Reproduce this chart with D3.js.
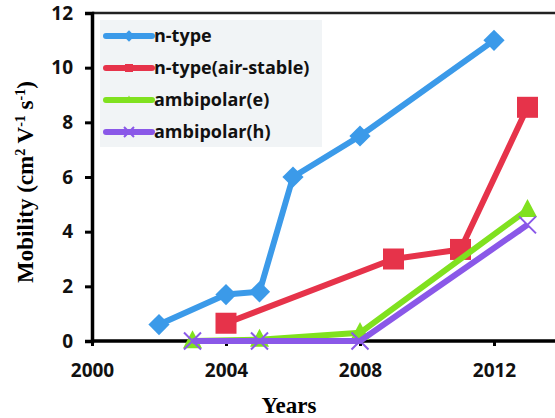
<!DOCTYPE html>
<html>
<head>
<meta charset="utf-8">
<script src="https://cdn.jsdelivr.net/npm/d3@7"></script>
<style>
  body { margin: 0; background: #fff; }
  svg { display: block; }
</style>
</head>
<body>
<svg id="chart" width="555" height="418"></svg>
<script>
// values
let nType = [[2002, 0.6], [2004, 1.7], [2005, 1.8], [2006, 6.0], [2008, 7.5], [2012, 11.0]]
let nTypeAir = [[2004, 0.65], [2009, 3.0], [2011, 3.35], [2013, 8.55]]
let ambiE = [[2003, 0.0], [2005, 0.05], [2008, 0.3], [2013, 4.8]]
let ambiH = [[2003, 0.0], [2005, 0.0], [2008, 0.0], [2013, 4.25]]
let seriesNames = ['n-type', 'n-type(air-stable)', 'ambipolar(e)', 'ambipolar(h)']
let xTicks = [2000, 2004, 2008, 2012]
let yTicks = [0, 2, 4, 6, 8, 10, 12]

let series = [
    {name: seriesNames[0], data: nType, color: '#3b9ae9', marker: 'diamond'},
    {name: seriesNames[1], data: nTypeAir, color: '#e6334a', marker: 'square'},
    {name: seriesNames[2], data: ambiE, color: '#80e11f', marker: 'triangle'},
    {name: seriesNames[3], data: ambiH, color: '#8a58e8', marker: 'cross'}
]

let svg = d3.select('#chart')
let plotLeft = 92, plotTop = 13, plotBottom = 341

let x = d3.scaleLinear().domain([2000, 2014]).range([plotLeft, 561])
let y = d3.scaleLinear().domain([0, 12]).range([plotBottom, plotTop])

let sansFont = "'Open Sans', 'DejaVu Sans', sans-serif"
let serifFont = "'Liberation Serif', 'DejaVu Serif', serif"

// top frame line
svg.append('line')
    .attr('x1', plotLeft).attr('x2', 555)
    .attr('y1', plotTop).attr('y2', plotTop)
    .attr('stroke', '#222').attr('stroke-width', 2.5)

// legend background
svg.append('rect')
    .attr('x', 100).attr('y', 20)
    .attr('width', 222).attr('height', 127)
    .attr('fill', '#f1f4f6')

// y axis
let yAxis = svg.append('g')
    .attr('transform', 'translate(' + plotLeft + ',0)')
    .call(d3.axisLeft(y).tickValues(yTicks).tickSize(7).tickPadding(12).tickFormat(d3.format('d')))
yAxis.select('.domain').attr('stroke', '#000').attr('stroke-width', 3.5)
yAxis.selectAll('.tick line').attr('stroke', '#000').attr('stroke-width', 3)
yAxis.selectAll('.tick text')
    .attr('font-family', sansFont).attr('font-weight', 'bold')
    .attr('font-size', 19).attr('fill', '#111')

// x axis
let xAxis = svg.append('g')
    .attr('transform', 'translate(0,' + plotBottom + ')')
    .call(d3.axisBottom(x).tickValues(xTicks).tickSize(5).tickPadding(18).tickFormat(d3.format('d')))
xAxis.select('.domain').attr('d', 'M' + plotLeft + ',0H555').attr('stroke', '#000').attr('stroke-width', 3.5)
xAxis.selectAll('.tick line').attr('stroke', '#000').attr('stroke-width', 3)
xAxis.selectAll('.tick text')
    .attr('font-family', sansFont).attr('font-weight', 'bold')
    .attr('font-size', 19).attr('fill', '#111')

// axis titles
svg.append('text')
    .attr('x', 289).attr('y', 413)
    .attr('text-anchor', 'middle')
    .attr('font-family', serifFont).attr('font-weight', 'bold').attr('font-size', 23)
    .text('Years')

let yTitle = svg.append('text')
    .attr('transform', 'translate(33,182) rotate(-90)')
    .attr('text-anchor', 'middle')
    .attr('font-family', serifFont).attr('font-weight', 'bold').attr('font-size', 23)
yTitle.append('tspan').text('Mobility (cm')
yTitle.append('tspan').attr('font-size', 14).attr('dy', -8).text('2')
yTitle.append('tspan').attr('dy', 8).text(' V')
yTitle.append('tspan').attr('font-size', 14).attr('dy', -8).text('-1')
yTitle.append('tspan').attr('dy', 8).text(' s')
yTitle.append('tspan').attr('font-size', 14).attr('dy', -8).text('-1')
yTitle.append('tspan').attr('dy', 8).text(')')

function drawMarker(g, kind, color, size) {
    if (kind === 'diamond') {
        g.append('rect')
            .attr('x', -size / 2).attr('y', -size / 2)
            .attr('width', size).attr('height', size)
            .attr('transform', 'rotate(45)')
            .attr('fill', color)
    } else if (kind === 'square') {
        g.append('rect')
            .attr('x', -size / 2).attr('y', -size / 2)
            .attr('width', size).attr('height', size)
            .attr('fill', color)
    } else if (kind === 'triangle') {
        let h = size * 0.95
        g.append('path')
            .attr('d', 'M0,' + (-h * 0.6) + 'L' + (size / 2) + ',' + (h * 0.4) + 'L' + (-size / 2) + ',' + (h * 0.4) + 'Z')
            .attr('fill', color)
    } else {
        let s = size / 2
        g.append('path')
            .attr('d', 'M' + (-s) + ',' + (-s) + 'L' + s + ',' + s + 'M' + s + ',' + (-s) + 'L' + (-s) + ',' + s)
            .attr('stroke', color).attr('stroke-width', 2).attr('fill', 'none')
    }
}

let markerSize = {diamond: 15, square: 21, triangle: 19, cross: 17}

let line = d3.line().x(d => x(d[0])).y(d => y(d[1]))

series.forEach((s) => {
    let g = svg.append('g')
    g.append('path')
        .datum(s.data)
        .attr('d', line)
        .attr('fill', 'none')
        .attr('stroke', s.color)
        .attr('stroke-width', 6)
        .attr('stroke-linejoin', 'round')
    s.data.forEach((d) => {
        let m = g.append('g').attr('transform', 'translate(' + x(d[0]) + ',' + y(d[1]) + ')')
        drawMarker(m, s.marker, s.color, markerSize[s.marker])
    })
})

// legend entries
series.forEach((s, i) => {
    let ly = 36 + i * 32
    let g = svg.append('g')
    g.append('line')
        .attr('x1', 106).attr('x2', 152)
        .attr('y1', ly).attr('y2', ly)
        .attr('stroke', s.color).attr('stroke-width', 6)
        .attr('stroke-linecap', 'round')
    let m = g.append('g').attr('transform', 'translate(129,' + ly + ')')
    drawMarker(m, s.marker, s.color, s.marker === 'cross' ? 10 : 8)
    g.append('text')
        .attr('x', 154).attr('y', ly + 6)
        .attr('font-family', sansFont).attr('font-weight', 'bold')
        .attr('font-size', 18).attr('fill', '#111')
        .text(s.name)
})
</script>
</body>
</html>
